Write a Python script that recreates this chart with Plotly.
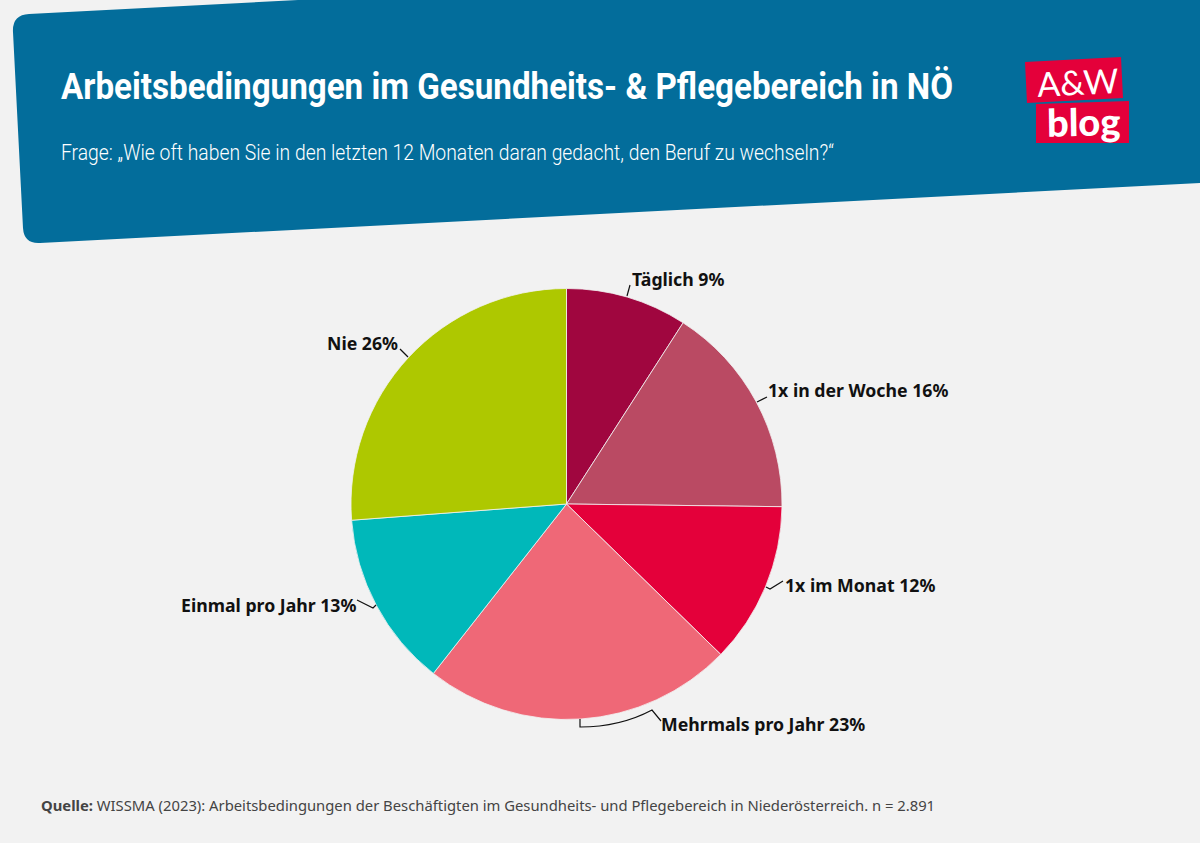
import plotly.graph_objects as go

W = 1200
H = 843

# Werte aus dem Bild
kategorien = ["Täglich", "1x in der Woche", "1x im Monat", "Mehrmals pro Jahr", "Einmal pro Jahr", "Nie"]
anteile = [9.1, 16.1, 12.1, 23.3, 13.2, 26.2]
anteile_text = ["9%", "16%", "12%", "23%", "13%", "26%"]
farben = ["#A0063F", "#BA4A63", "#E4003A", "#EF6877", "#00B8BA", "#AEC800"]

titel = "Arbeitsbedingungen im Gesundheits- & Pflegebereich in NÖ"
frage = "Frage: „Wie oft haben Sie in den letzten 12 Monaten daran gedacht, den Beruf zu wechseln?“"
quelle = "WISSMA (2023): Arbeitsbedingungen der Beschäftigten im Gesundheits- und Pflegebereich in Niederösterreich. n = 2.891"

# Position der Beschriftungen in Pixeln (Anker, x, y)
label_pos = [
    ("left", 631, 278.5),
    ("left", 767, 390),
    ("left", 784, 585),
    ("left", 660, 723.5),
    ("right", 357, 604.5),
    ("right", 399, 343),
]

# Seitenrand weg und schmale Schrift fuer Kopfzeilen (keine Narrow-Schrift installiert)
nach_skript = """
document.documentElement.style.margin = '0';
document.body.style.margin = '0';
document.body.style.overflow = 'hidden';
var texte = document.querySelectorAll('.annotation-text');
[[0, 892], [1, 773]].forEach(function (p) {
    var t = texte[p[0]];
    var b = t.getBBox();
    var links = b.x;
    t.setAttribute('textLength', p[1]);
    t.setAttribute('lengthAdjust', 'spacingAndGlyphs');
    t.setAttribute('text-anchor', 'start');
    t.setAttribute('x', links);
    t.style.textAnchor = 'start';
});
"""


def px_x(x):
    return x / W


def px_y(y):
    return 1 - y / H


def pfad(befehle):
    # Pfad in Pixeln -> Paper-Koordinaten
    teile = []
    for cmd, *pts in befehle:
        if cmd == "Z":
            teile.append("Z")
        else:
            teile.append(cmd + " " + " ".join(f"{px_x(x):.5f},{px_y(y):.5f}" for x, y in pts))
    return " ".join(teile)


def form(befehle, fill=None, line=None, width=1.2):
    d = dict(type="path", xref="paper", yref="paper", path=pfad(befehle), layer="above")
    if fill:
        d["fillcolor"] = fill
        d["line"] = dict(width=0)
    else:
        d["line"] = dict(color=line, width=width)
    return d


fig = go.Figure(
    go.Pie(
        labels=kategorien,
        values=anteile,
        sort=False,
        direction="clockwise",
        rotation=0,
        textinfo="none",
        hoverinfo="label+percent",
        marker=dict(colors=farben, line=dict(color="#F2F2F2", width=0.8)),
        domain=dict(x=[px_x(351), px_x(782)], y=[px_y(719.5), px_y(288.5)]),
        showlegend=False,
    )
)

kopf = form(
    [
        ("M", (13, 32)),
        ("Q", (12, 15), (29, 14)),
        ("L", (298, 0)),
        ("L", (1200, 0)),
        ("L", (1200, 183)),
        ("L", (40, 243)),
        ("Q", (24, 244), (23, 228)),
        ("Z",),
    ],
    fill="#036D9B",
)
kopf["layer"] = "below"

logo_oben = form([("M", (1025, 62)), ("L", (1121, 57)), ("L", (1123, 98)), ("L", (1027, 103)), ("Z",)], fill="#E4003A")
logo_unten = form([("M", (1036, 104)), ("L", (1129, 101)), ("L", (1129, 143)), ("L", (1036, 143)), ("Z",)], fill="#E4003A")

leader = [
    [("M", (627, 296)), ("L", (630, 285))],
    [("M", (757, 402)), ("L", (767, 397))],
    [("M", (766, 587)), ("L", (770, 589)), ("L", (783, 581))],
    [("M", (580, 719)), ("L", (580, 727)), ("Q", (620, 727), (652, 710)), ("L", (661, 721))],
    [("M", (357, 600)), ("L", (373, 608)), ("L", (376, 605))],
    [("M", (400, 349)), ("L", (408, 357))],
]

shapes = [kopf, logo_oben, logo_unten] + [form(p, line="#111111") for p in leader]


def text(x, y, s, size, color, family, anchor="left", weight=None, angle=0):
    f = dict(size=size, color=color, family=family)
    if weight:
        f["weight"] = weight
    return dict(
        x=px_x(x), y=px_y(y), xref="paper", yref="paper", text=s, showarrow=False,
        xanchor=anchor, yanchor="middle", font=f, textangle=angle, borderpad=0,
    )


annotations = [
    text(60, 86, titel, 37, "white", "Roboto", weight=700),
    text(60, 153, frage, 22, "white", "Roboto", weight=300),
    text(40, 805, f"<b>Quelle:</b> {quelle}", 14.8, "#444444", "Noto Sans"),
    text(1077, 81, "A&W", 34, "white", "Lato", anchor="center", weight=400, angle=-3),
    text(1083, 121, "blog", 38, "white", "Lato", anchor="center", weight=900, angle=-1),
]

for kat, pct, (anker, x, y) in zip(kategorien, anteile_text, label_pos):
    annotations.append(text(x, y, f"<b>{kat} {pct}</b>", 17.7, "#111111", "Noto Sans", anchor=anker))

fig.update_layout(
    width=W,
    height=H,
    margin=dict(l=0, r=0, t=0, b=0),
    paper_bgcolor="#F2F2F2",
    plot_bgcolor="#F2F2F2",
    shapes=shapes,
    annotations=annotations,
)

fig.write_html("out.html", post_script=nach_skript, config=dict(displayModeBar=False))
